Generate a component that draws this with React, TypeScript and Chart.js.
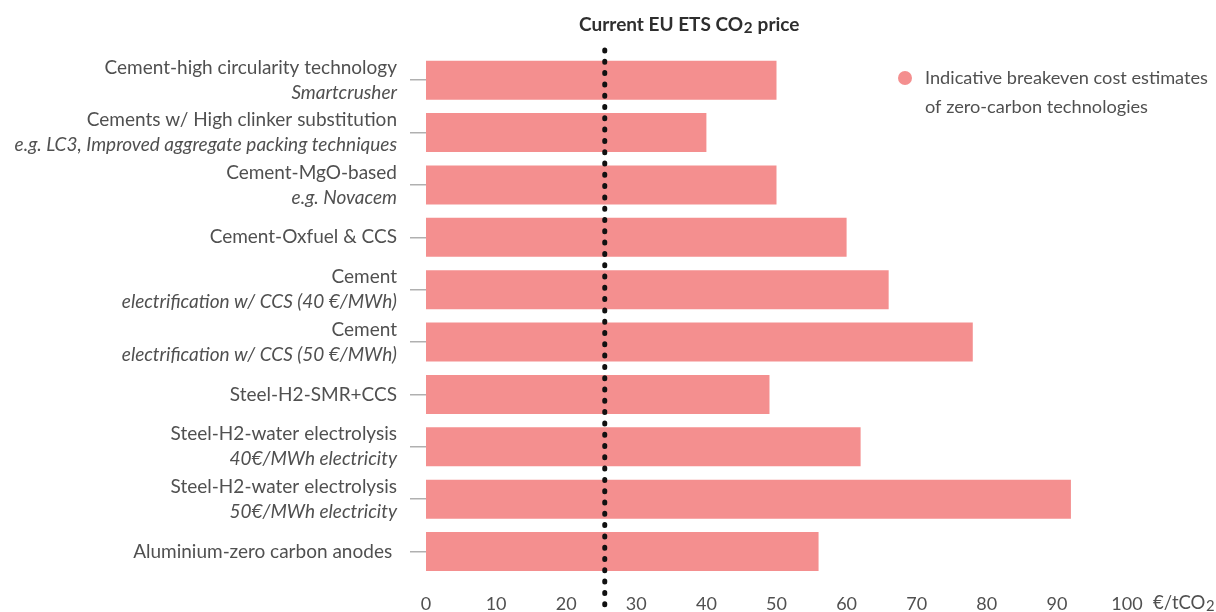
import React, { useEffect, useRef } from "react";
import { Chart, registerables } from "chart.js";

Chart.register(...registerables);

const categories: string[] = [
  "Cement-high circularity technology",
  "Cements w/ High clinker substitution",
  "Cement-MgO-based",
  "Cement-Oxfuel & CCS",
  "Cement",
  "Cement",
  "Steel-H2-SMR+CCS",
  "Steel-H2-water electrolysis",
  "Steel-H2-water electrolysis",
  "Aluminium-zero carbon anodes ",
];
const subLabels: string[] = [
  "Smartcrusher",
  "e.g. LC3, Improved aggregate packing techniques",
  "e.g. Novacem",
  "",
  "electrification w/ CCS (40 €/MWh)",
  "electrification w/ CCS (50 €/MWh)",
  "",
  "40€/MWh electricity",
  "50€/MWh electricity",
  "",
];
const breakevenCosts: number[] = [50, 40, 50, 60, 66, 78, 49, 62, 92, 56];
const currentEtsPrice = 25.5;
const xTicks: number[] = [0, 10, 20, 30, 40, 50, 60, 70, 80, 90, 100];
const legendLines: string[] = ["Indicative breakeven cost estimates", "of zero-carbon technologies"];
const titleParts: string[] = ["Current EU ETS CO", "2", " price"];
const unitParts: string[] = ["€/tCO", "2"];

const FONT = "Lato, 'Open Sans', sans-serif";
const BAR = "#F48F8F";
const TEXT = "#505050";

function drawSub(ctx: CanvasRenderingContext2D, parts: string[], x: number, y: number, size: number, weight: string, align: "left" | "center") {
  ctx.font = `${weight} ${size}px ${FONT}`;
  const w0 = ctx.measureText(parts[0]).width;
  ctx.font = `${weight} ${size * 0.8}px ${FONT}`;
  const w1 = ctx.measureText(parts[1]).width;
  ctx.font = `${weight} ${size}px ${FONT}`;
  const w2 = parts[2] ? ctx.measureText(parts[2]).width : 0;
  const total = w0 + w1 + w2;
  const sx = align === "center" ? x - total / 2 : x;
  ctx.textAlign = "left";
  ctx.textBaseline = "middle";
  ctx.fillText(parts[0], sx, y);
  ctx.font = `${weight} ${size * 0.8}px ${FONT}`;
  ctx.fillText(parts[1], sx + w0 + 0.5, y + 3);
  if (parts[2]) {
    ctx.font = `${weight} ${size}px ${FONT}`;
    ctx.fillText(parts[2], sx + w0 + w1 + 1, y);
  }
}

const overlay = {
  id: "overlay",
  afterDatasetsDraw(chart: any) {
    const { ctx } = chart;
    const xs = chart.scales.x;
    const px = xs.getPixelForValue(currentEtsPrice);
    ctx.save();
    ctx.strokeStyle = "#111";
    ctx.lineWidth = 5;
    ctx.lineCap = "round";
    ctx.setLineDash([1, 10.3]);
    ctx.beginPath();
    ctx.moveTo(px, 50);
    ctx.lineTo(px, 612);
    ctx.stroke();
    ctx.restore();
  },
  afterDraw(chart: any) {
    const { ctx } = chart;
    const ys = chart.scales.y;
    const xs = chart.scales.x;
    ctx.save();
    ctx.fillStyle = TEXT;
    ctx.textAlign = "right";
    ctx.textBaseline = "middle";
    const lx = 397;
    categories.forEach((c, i) => {
      const y = ys.getPixelForValue(i);
      if (subLabels[i]) {
        ctx.font = `19px ${FONT}`;
        ctx.fillText(c, lx, y - 12.5);
        ctx.font = `italic 19px ${FONT}`;
        ctx.fillText(subLabels[i], lx, y + 12.5);
      } else {
        ctx.font = `19px ${FONT}`;
        ctx.fillText(c, lx, y);
      }
    });
    // title
    ctx.fillStyle = "#2e2e2e";
    drawSub(ctx, titleParts, xs.getPixelForValue(currentEtsPrice) + 84, 25, 19, "bold", "center");
    // unit
    ctx.fillStyle = TEXT;
    drawSub(ctx, unitParts, xs.right + 26, 603, 18.5, "normal", "left");
    // legend
    ctx.fillStyle = BAR;
    ctx.beginPath();
    ctx.arc(905, 78, 7, 0, Math.PI * 2);
    ctx.fill();
    ctx.fillStyle = TEXT;
    ctx.font = `18.2px ${FONT}`;
    ctx.textAlign = "left";
    ctx.textBaseline = "middle";
    ctx.fillText(legendLines[0], 925, 78);
    ctx.fillText(legendLines[1], 925, 107);
    ctx.restore();
  },
};

export default function App() {
  const ref = useRef<HTMLCanvasElement>(null);
  useEffect(() => {
    document.body.style.margin = "0";
    const chart = new Chart(ref.current!, {
      type: "bar",
      data: {
        labels: categories,
        datasets: [
          {
            data: breakevenCosts,
            backgroundColor: BAR,
            borderWidth: 0,
            barPercentage: 0.745,
            categoryPercentage: 1,
          },
        ],
      },
      options: {
        indexAxis: "y",
        animation: false,
        responsive: false,
        devicePixelRatio: 1,
        layout: { padding: { top: 54, right: 89, left: 0, bottom: 0 } },
        plugins: { legend: { display: false }, tooltip: { enabled: false } },
        scales: {
          y: {
            ticks: { display: false },
            grid: {
              drawOnChartArea: false,
              drawTicks: true,
              tickLength: 16,
              offset: false,
              color: "#b0b0b0",
              lineWidth: 1.5,
            },
            border: { display: false },
            afterFit: (s: any) => {
              s.width = 426;
            },
          },
          x: {
            min: 0,
            max: 100,
            afterBuildTicks: (s: any) => {
              s.ticks = xTicks.map((v) => ({ value: v }));
            },
            ticks: {
              color: TEXT,
              font: { family: FONT, size: 18 },
              padding: 8,
              maxRotation: 0,
            },
            grid: { display: false },
            border: { display: false },
            afterFit: (s: any) => {
              s.height = 34.3;
            },
          },
        },
      },
      plugins: [overlay],
    });
    return () => chart.destroy();
  }, []);
  return <canvas ref={ref} width={1216} height={612} style={{ display: "block" }} />;
}
